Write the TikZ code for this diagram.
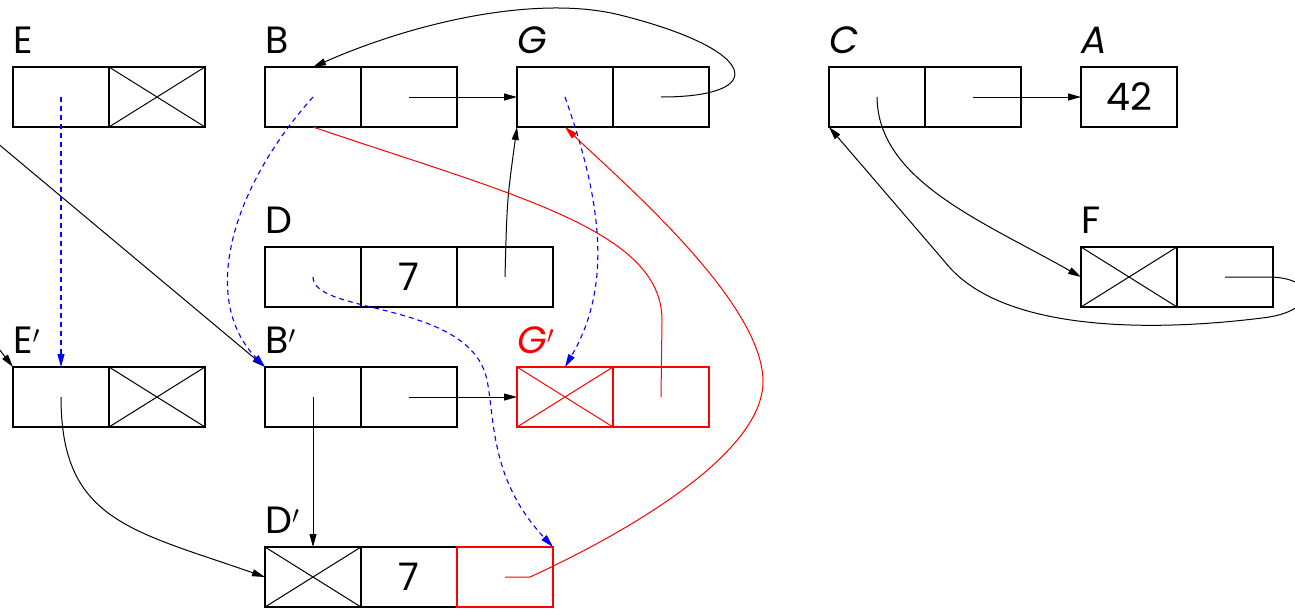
\documentclass[tikz,border=0pt]{standalone}
\usepackage{fontspec}
\setmainfont{Poppins}
\usepackage{tikz}
\usetikzlibrary{arrows.meta,positioning}

\begin{document}
\begin{tikzpicture}[x=1pt, y=-1pt, node distance=60pt,
    cell/.style={rectangle, draw=#1, line width=1.2pt, minimum width=96pt, minimum height=60pt,
                 inner sep=0pt, outer sep=0pt, font=\fontsize{38}{40}\selectfont},
    cell/.default=black,
    nil/.style={cell=#1, path picture={\draw[#1, line width=1pt]
                 (path picture bounding box.north west) -- (path picture bounding box.south east)
                 (path picture bounding box.south west) -- (path picture bounding box.north east);}},
    nil/.default=black,
    lbl/.style={inner sep=0pt, font=\fontsize{38}{40}\selectfont},
    ptr/.style={line width=1pt, -{Triangle[length=13pt, width=7pt]}},
    old/.style={ptr, blue, line width=1.1pt, dash pattern=on 5pt off 4pt}]
    \useasboundingbox (0,0) rectangle (1295,608);

    % top row
    \node[cell] (E1) at (61,97) {};
    \node[nil, right=0pt of E1] (E2) {};
    \node[cell, right=of E2] (B1) {};
    \node[cell, right=0pt of B1] (B2) {};
    \node[cell, right=of B2] (G1) {};
    \node[cell, right=0pt of G1] (G2) {};
    \node[cell, right=120pt of G2] (C1) {};
    \node[cell, right=0pt of C1] (C2) {};
    \node[cell, right=of C2] (A) {42};

    % middle row
    \node[cell, below=120pt of B1] (D1) {};
    \node[cell, right=0pt of D1] (D2) {7};
    \node[cell, right=0pt of D2] (D3) {};
    \node[nil, below=120pt of A] (F1) {};
    \node[cell, right=0pt of F1] (F2) {};

    % copies
    \node[cell, below=240pt of E1] (Ep1) {};
    \node[nil, right=0pt of Ep1] (Ep2) {};
    \node[cell, below=of D1] (Bp1) {};
    \node[cell, right=0pt of Bp1] (Bp2) {};
    \node[nil=red, below=240pt of G1] (Gp1) {};
    \node[cell=red, right=0pt of Gp1] (Gp2) {};
    \node[nil, below=120pt of Bp1] (Dp1) {};
    \node[cell, right=0pt of Dp1] (Dp2) {7};
    \node[cell=red, right=0pt of Dp2] (Dp3) {};

    % labels
    \node[lbl, above=14pt of E1.north west, anchor=base west] (lE) {E};
    \node[lbl, above=14pt of B1.north west, anchor=base west] (lB) {B};
    \node[lbl, above=14pt of G1.north west, anchor=base west] (lG) {\itshape G};
    \node[lbl, above=14pt of C1.north west, anchor=base west] (lC) {\itshape C};
    \node[lbl, above=14pt of A.north west, anchor=base west] (lA) {\itshape A};
    \node[lbl, above=14pt of D1.north west, anchor=base west] (lD) {D};
    \node[lbl, above=14pt of F1.north west, anchor=base west] (lF) {F};
    \node[lbl, above=14pt of Ep1.north west, anchor=base west] (lEp) {E$'$};
    \node[lbl, above=14pt of Bp1.north west, anchor=base west] (lBp) {B$'$};
    \node[lbl, above=14pt of Gp1.north west, anchor=base west, text=red] (lGp) {\itshape G$'$};
    \node[lbl, above=14pt of Dp1.north west, anchor=base west] (lDp) {D$'$};

    \coordinate (inB) at (-10,137);
    \coordinate (inE) at (-8,340);

    % pointers
    \draw[ptr] (inB) -- (Bp1.north west);
    \draw[ptr] (inE) -- (Ep1.north west);
    \draw[ptr] (B2.center) -- (G1.west);
    \draw[ptr] (G2.center) .. controls (770,97) and (760,50) .. (620,15)
        .. controls (540,-5) and (420,20) .. (B1.north);
    \draw[ptr] (D3.center) .. controls (507,200) .. (G1.south west);
    \draw[ptr] (Ep1.center) .. controls (61,520) and (130,530) .. (Dp1.west);
    \draw[ptr] (Bp1.center) -- (Dp1.north);
    \draw[ptr] (Bp2.center) -- (Gp1.west);
    \draw[ptr] (C2.center) -- (A.west);
    \draw[ptr] (C1.center) .. controls (878,180) and (980,220) .. (F1.west);
    \draw[ptr] (F2.center) -- (1268,277) .. controls (1318,277) and (1318,312) .. (1262,318)
        .. controls (1150,332) and (1000,332) .. (945,262) -- (C1.south west);

    % forwarding (dashed)
    \draw[old] (E1.center) -- (Ep1.north);
    \draw[old] (B1.center) .. controls (230,190) and (200,300) .. (Bp1.north west);
    \draw[old] (G1.center) .. controls (605,210) and (610,290) .. (Gp1.north);
    \draw[old] (D1.center) .. controls (313,315) and (470,300) .. (487,380)
        .. controls (495,420) and (490,480) .. (Dp3.north east);

    % new fields
    \draw[red, line width=1pt] (Gp2.center) -- (662,320) .. controls (662,230) and (513,195) .. (B1.south);
    \draw[ptr, red] (Dp3.center) -- (530,577) .. controls (600,545) and (765,460) .. (763,380)
        .. controls (761,300) and (620,180) .. (G1.south);
\end{tikzpicture}
\end{document}
